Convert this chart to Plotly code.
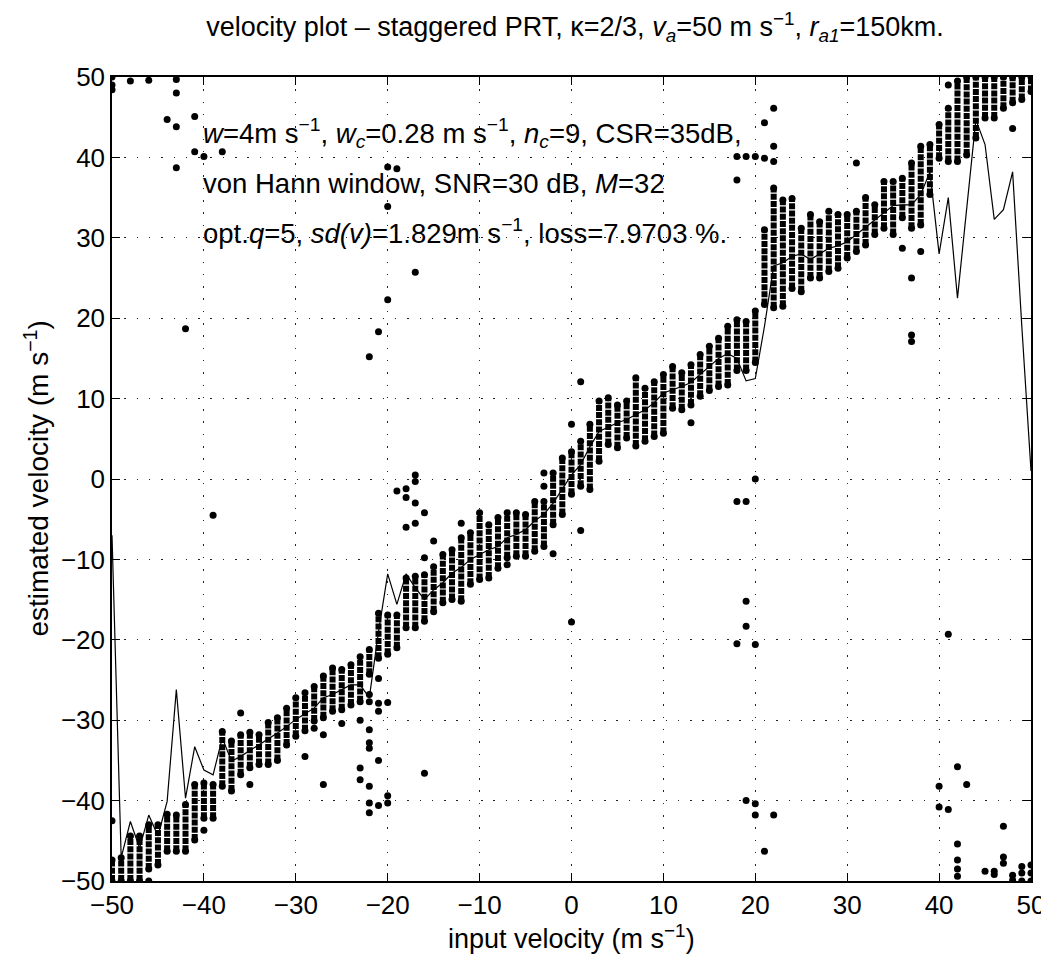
import plotly.graph_objects as go

# ---------------- data ----------------
input_v = list(range(-50, 51))

band_lo = [-50, -50, -50, -50, -48.5, -48, -46.3, -46.3, -46.3, -44.9,
           -42.2, -42.2, -38.2, -38.8, -36.8, -35.9, -35.5, -35.5, -35.0, -33.1,
           -32.0, -31.3, -30.1, -29.7, -28.9, -28.7, -28.1, -27.7, -24.3, -22.3,
           -21.8, -21.0, -18.5, -18.5, -17.7, -16.5, -15.4, -15.0, -15.2, -13.1,
           -12.5, -12.3, -11.1, -9.8, -9.6, -9.6, -9.0, -8.4, -5.7, -4.4,
           -1.9, -0.9, -1.3, 2.2, 4.3, 3.9, 5.1, 4.1, 4.7, 5.3,
           5.7, 8.8, 8.6, 9.2, 10.3, 11.0, 11.5, 11.7, 13.5, 13.5,
           14.5, 21.7, 21.3, 21.5, 23.7, 23.3, 25.0, 25.0, 25.8, 26.2,
           27.5, 28.3, 29.1, 30.4, 31.2, 30.4, 32.5, 31.2, 31.6, 35.4,
           39.9, 39.5, 39.5, 40.3, 42.4, 44.9, 44.9, 46.1, 46.8, 47.2,
           48.2]

band_hi = [-47.4, -47.1, -44.4, -44.4, -43.0, -43.0, -41.7, -41.8, -40.5, -38.0,
           -37.8, -38.0, -31.4, -32.6, -31.8, -31.5, -31.8, -30.3, -29.7, -28.5,
           -27.2, -26.6, -25.8, -24.5, -23.5, -23.7, -23.1, -22.1, -21.2, -16.7,
           -16.9, -16.9, -12.3, -12.1, -11.9, -10.9, -9.4, -8.8, -7.3, -6.7,
           -4.2, -5.7, -4.8, -4.2, -4.2, -4.4, -2.8, -2.8, 0.75, 2.6,
           3.4, 4.7, 6.8, 9.7, 10.1, 9.2, 9.7, 12.6, 11.3, 12.1,
           13.0, 14.0, 13.2, 14.2, 15.5, 16.5, 17.5, 19.0, 19.8, 19.6,
           20.9, 31.0, 36.2, 34.7, 34.9, 31.2, 32.9, 32.0, 33.3, 32.9,
           32.9, 33.3, 35.0, 34.1, 37.0, 37.0, 37.4, 39.3, 41.4, 41.6,
           44.1, 46.1, 49.5, 50, 50, 50, 50, 50, 50, 50,
           50]

mean_est = [-7.0, -47.1, -42.6, -45.9, -41.8, -44.4, -40.1, -26.2, -39.7, -33.3,
            -36.2, -36.8, -32.2, -35.1, -34.5, -33.8, -33.0, -32.3, -31.6, -30.8,
            -29.9, -29.2, -28.5, -27.2, -26.8, -26.2, -25.6, -25.6, -27.2, -19.0,
            -11.8, -15.6, -11.8, -13.5, -15.0, -13.8, -12.9, -11.7, -11.0, -10.0,
            -9.4, -8.8, -8.4, -7.3, -6.9, -6.3, -5.2, -4.4, -3.0, -1.2,
            0.5, 1.8, 4.0, 5.9, 6.5, 7.0, 7.4, 8.0, 8.6, 9.5,
            10.7, 11.1, 11.5, 12.0, 13.0, 14.0, 15.0, 15.6, 15.0, 12.2,
            12.5, 19.0, 26.5, 26.9, 27.7, 28.0, 27.3, 28.0, 28.7, 29.0,
            29.5, 30.4, 31.3, 32.3, 33.2, 34.0, 34.1, 34.1, 35.4, 38.2,
            28.0, 35.0, 22.5, 33.6, 44.7, 41.6, 32.3, 33.5, 38.2, 19.0,
            1.0]

outlier_x = [-50, -50, -50, -48, -46, -43, -43, -44, -43, -41, -41, -40, -38, -43,
             -42, -39,
             -50, -46, -40, -35, -36, -29, -27,
             -28, -27, -25, -23, -22, -22, -22, -21, -21, -21, -20,
             -23, -23, -22, -22, -22, -22, -22, -21, -21, -20, -20,
             -16, 0, -16, -15, -12,
             -22, -21, -20, -20, -20, -19, -17,
             -17, -17, -18, -18, -19, -17, -16, -18, -17,
             -7, -3, -3, -2, 0, 1, 1, 13,
             18, 19, 20, 18, 19, 19, 20, 19, 20, 20, 21, 22,
             18, 18, 19, 20, 21, 21, 22, 22, 22,
             31, 36, 37, 37, 37, 38, 41, 48,
             40, 40, 41, 42, 43, 42, 42, 42, 42, 41,
             45, 46, 46, 47, 47, 47, 48, 48, 49, 49, 49, 50, 50, 50]
outlier_y = [50, 49, 48.4, 49.5, 49.6, 49.7, 48, 44.7, 43.8, 45.1, 40.7, 40.1, 40.7, 38.7,
             18.7, -4.5,
             -42.5, -50, -43.7, -38, -29.1, -34.5, -38,
             -31, -31.8, -30.4, -30.0, -26.8, -27.7, -31.2, -24.8, -27.9, -28.9, -27.8,
             -35.95, -37.4, -32.8, -33.5, -38.2, -40.3, -41.5, -35.0, -40.6, -39.4, -40.3,
             -36.6, -17.8, -9.8, -7.7, -5.5,
             15.2, 18.3, 22.3, 33.9, 38.8, 38.6, 25.7,
             0.5, -0.3, -1.2, -2.3, -1.5, -3, -4.2, -6, -5.5,
             -10.65, 0.75, -0.9, -9.3, 6.8, 12.1, -6.4, 7.0,
             -2.8, -2.8, 0.0, -20.5, -15.2, -18.3, -20.6, -40.0, -40.4, -41.8, -46.3, -41.8,
             37.2, 40.1, 40.1, 40.1, 39.9, 44.3, 46.1, 41.4, 39.5,
             39.3, 28.7, 25.0, 17.9, 17.1, 28.3, 49, 43.6,
             -38.2, -40.8, -41.1, -35.8, -38, -45.4, -47.4, -48.5, -49.4, -19.3,
             -48.8, -48.8, -49.2, -43.2, -47, -47.8, -49.3, -49.9, -48.2, -49, -50, -48, -49, -50]

tick_vals = [-50, -40, -30, -20, -10, 0, 10, 20, 30, 40, 50]

# ---------------- figure ----------------
FONT = "Liberation Sans, Arial, Helvetica, sans-serif"

seg_x, seg_y = [], []
for xv, lo, hi in zip(input_v, band_lo, band_hi):
    seg_x += [xv, xv, None]
    seg_y += [lo, hi, None]

fig = go.Figure()
fig.add_trace(go.Scatter(x=seg_x, y=seg_y, mode="lines+markers",
                         line=dict(color="black", width=6, dash="6px,1.2px"),
                         marker=dict(color="black", size=7),
                         hoverinfo="skip", showlegend=False))
fig.add_trace(go.Scatter(x=outlier_x, y=outlier_y, mode="markers",
                         marker=dict(color="black", size=7),
                         showlegend=False))
fig.add_trace(go.Scatter(x=input_v, y=mean_est, mode="lines",
                         line=dict(color="black", width=1.2),
                         showlegend=False))

axis_common = dict(
    range=[-50, 50], tickvals=tick_vals, ticks="inside", ticklen=8,
    tickwidth=1.2, tickcolor="black", showline=True, linecolor="black",
    linewidth=1.5, mirror="ticks", showgrid=True, gridcolor="#222",
    gridwidth=1, griddash="1.5px,10.8px", zeroline=False,
    tickfont=dict(family=FONT, size=26, color="black"),
)

fig.update_layout(
    width=1049, height=957,
    margin=dict(l=104, r=19, t=69, b=84),
    paper_bgcolor="white", plot_bgcolor="white",
    xaxis=axis_common, yaxis=axis_common,
    font=dict(family=FONT, color="black"),
    title=dict(
        text="velocity plot – staggered PRT, κ=2/3, <i>v</i><sub><i>a</i></sub>=50 m s<sup>−1</sup>, "
             "<i>r</i><sub><i>a1</i></sub>=150km.",
        x=0.5405, xanchor="center", y=1 - 19 / 957, yanchor="middle",
        font=dict(family=FONT, size=27, color="black")),
)

ann_font = dict(family=FONT, size=27.5, color="black")
texts = [
    (43.0, "<i>w</i>=4m s<sup>−1</sup>, <i>w</i><sub><i>c</i></sub>=0.28 m s<sup>−1</sup>, "
           "<i>n</i><sub><i>c</i></sub>=9, CSR=35dB,"),
    (36.8, "von Hann window, SNR=30 dB, <i>M</i>=32"),
    (30.8, "opt.<i>q</i>=5, <i>sd(v)</i>=1.829m s<sup>−1</sup>, loss=7.9703 %."),
]
for yv, t in texts:
    fig.add_annotation(x=-40.3, y=yv, xref="x", yref="y", text=t, showarrow=False,
                       xanchor="left", yanchor="middle", font=ann_font)

fig.add_annotation(x=(567 - 104) / 926, y=(873 - 929) / 804, xref="paper", yref="paper",
                   text="input velocity (m s<sup>−1</sup>)", showarrow=False,
                   xanchor="center", yanchor="middle",
                   font=dict(family=FONT, size=27, color="black"))
fig.add_annotation(x=(28 - 104) / 926, y=0.5, xref="paper", yref="paper",
                   text="estimated velocity (m s<sup>−1</sup>)", showarrow=False,
                   textangle=-90, xanchor="center", yanchor="middle",
                   font=dict(family=FONT, size=28, color="black"))

fig.write_html("out.html")
